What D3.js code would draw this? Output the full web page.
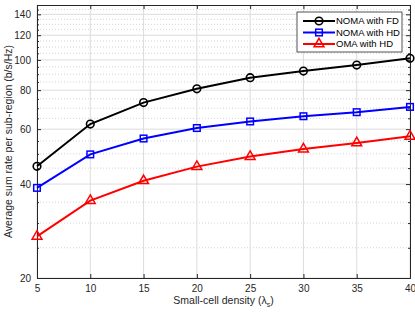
<!DOCTYPE html>
<head>
  <meta charset="utf-8">
  <script src="https://d3js.org/d3.v7.min.js"></script>
  <style>
    body { margin: 0; background: #fff; }
    svg { display: block; font-family: "Liberation Sans", Arial, sans-serif; }
  </style>
</head>
<body>
  <svg width="415" height="312"></svg>
  <script>
    // data
    var density = [5, 10, 15, 20, 25, 30, 35, 40];
    var nomaFD = [45.6, 62.3, 73.0, 80.8, 87.7, 92.1, 96.3, 101.2];
    var nomaHD = [38.9, 49.8, 56.0, 60.5, 63.5, 66.0, 68.0, 70.7];
    var omaHD = [27.2, 35.4, 41.0, 45.5, 49.0, 51.8, 54.2, 56.9];
    var seriesNames = ["NOMA with FD", "NOMA with HD", "OMA with HD"];
    var xTicks = [5, 10, 15, 20, 25, 30, 35, 40];
    var yTicks = [20, 40, 60, 80, 100, 120, 140];
    var yMinor = d3.range(25, 150, 5).filter(function(v){ return v % 20 != 0; });

    var series = [
      {name: seriesNames[0], values: nomaFD, color: "#000000", marker: "circle"},
      {name: seriesNames[1], values: nomaHD, color: "#0000ff", marker: "square"},
      {name: seriesNames[2], values: omaHD, color: "#ff0000", marker: "triangle"}
    ];

    var margin = {top: 5, right: 5, bottom: 34, left: 37};
    var width = 415, height = 312;
    var svg = d3.select('svg');

    var x = d3.scaleLinear().domain([5, 40]).range([margin.left, width - margin.right]);
    var y = d3.scaleLog().domain([20, 150]).range([height - margin.bottom, margin.top]);

    var axisColor = "#262626";

    // grid
    var grid = svg.append('g');
    grid.selectAll('.minor').data(yMinor).enter().append('line')
      .attr('x1', x(5)).attr('x2', x(40))
      .attr('y1', function(d){ return y(d); }).attr('y2', function(d){ return y(d); })
      .attr('stroke', '#c8c8c8').attr('stroke-width', 0.8).attr('stroke-dasharray', '1,2');
    grid.selectAll('.hy').data(yTicks).enter().append('line')
      .attr('x1', x(5)).attr('x2', x(40))
      .attr('y1', function(d){ return y(d); }).attr('y2', function(d){ return y(d); })
      .attr('stroke', '#dcdcdc').attr('stroke-width', 1);
    grid.selectAll('.vx').data(xTicks).enter().append('line')
      .attr('y1', y(20)).attr('y2', y(150))
      .attr('x1', function(d){ return x(d); }).attr('x2', function(d){ return x(d); })
      .attr('stroke', '#dcdcdc').attr('stroke-width', 1);

    // axes (ticks inward, box on)
    var xAxis = d3.axisBottom(x).tickValues(xTicks).tickSize(-4).tickPadding(7).tickSizeOuter(0);
    var yAxis = d3.axisLeft(y).tickValues(yTicks).tickFormat(d3.format('d')).tickSize(-4).tickPadding(6).tickSizeOuter(0);
    var xTop = d3.axisTop(x).tickValues(xTicks).tickSize(-4).tickFormat('').tickSizeOuter(0);
    var yRight = d3.axisRight(y).tickValues(yTicks).tickSize(-4).tickFormat('').tickSizeOuter(0);
    var yMinorL = d3.axisLeft(y).tickValues(yMinor).tickSize(-2).tickFormat('').tickSizeOuter(0);
    var yMinorR = d3.axisRight(y).tickValues(yMinor).tickSize(-2).tickFormat('').tickSizeOuter(0);

    function style(g) {
      g.selectAll('path, line').attr('stroke', axisColor);
      g.selectAll('text').attr('fill', axisColor).style('font-size', '10px')
        .style('font-family', '"Liberation Sans", Arial, sans-serif');
    }

    svg.append('g').attr('transform', 'translate(0,' + (height - margin.bottom) + ')').call(xAxis).call(style);
    svg.append('g').attr('transform', 'translate(0,' + margin.top + ')').call(xTop).call(style);
    svg.append('g').attr('transform', 'translate(' + margin.left + ',0)').call(yAxis).call(style);
    svg.append('g').attr('transform', 'translate(' + (width - margin.right) + ',0)').call(yRight).call(style);
    svg.append('g').attr('transform', 'translate(' + margin.left + ',0)').call(yMinorL).call(style);
    svg.append('g').attr('transform', 'translate(' + (width - margin.right) + ',0)').call(yMinorR).call(style);

    // markers
    function drawMarker(g, type, color, cx, cy) {
      if (type == 'circle') {
        g.append('circle').attr('cx', cx).attr('cy', cy).attr('r', 3.8)
          .attr('fill', 'none').attr('stroke', color).attr('stroke-width', 1.6);
      } else if (type == 'square') {
        g.append('rect').attr('x', cx - 3.3).attr('y', cy - 3.3).attr('width', 6.6).attr('height', 6.6)
          .attr('fill', 'none').attr('stroke', color).attr('stroke-width', 1.5);
      } else {
        g.append('path').attr('d', d3.symbol().type(d3.symbolTriangle).size(42)())
          .attr('transform', 'translate(' + cx + ',' + cy + ')')
          .attr('fill', 'none').attr('stroke', color).attr('stroke-width', 1.5);
      }
    }

    // lines
    var line = d3.line()
      .x(function(d, i){ return x(density[i]); })
      .y(function(d){ return y(d); });

    series.forEach(function(s) {
      var g = svg.append('g');
      g.append('path').datum(s.values).attr('d', line)
        .attr('fill', 'none').attr('stroke', s.color).attr('stroke-width', 2);
      s.values.forEach(function(v, i) {
        drawMarker(g, s.marker, s.color, x(density[i]), y(v));
      });
    });

    // legend
    var lg = svg.append('g').attr('transform', 'translate(297,12)');
    lg.append('rect').attr('width', 105).attr('height', 40)
      .attr('fill', '#fff').attr('stroke', axisColor).attr('stroke-width', 0.8);
    series.forEach(function(s, i) {
      var ry = 9 + i * 11.5;
      lg.append('line').attr('x1', 6).attr('x2', 38).attr('y1', ry).attr('y2', ry)
        .attr('stroke', s.color).attr('stroke-width', 2);
      drawMarker(lg, s.marker, s.color, 22, ry);
      lg.append('text').attr('x', 39).attr('y', ry + 3.4).text(s.name)
        .style('font-size', '9.5px').attr('fill', '#000');
    });

    // axis labels
    var xl = svg.append('text').attr('x', (margin.left + width - margin.right) / 2).attr('y', 304)
      .attr('text-anchor', 'middle').attr('fill', axisColor).style('font-size', '10.5px');
    xl.append('tspan').text('Small-cell density (');
    xl.append('tspan').text('λ');
    xl.append('tspan').text('s').attr('dy', 3).style('font-size', '7px');
    xl.append('tspan').text(')').attr('dy', -3);

    svg.append('text')
      .attr('transform', 'translate(12,' + ((margin.top + height - margin.bottom) / 2) + ') rotate(-90)')
      .attr('text-anchor', 'middle').attr('fill', axisColor).style('font-size', '10.5px')
      .text('Average sum rate per sub-region (b/s/Hz)');
  </script>
</body>
</html>
